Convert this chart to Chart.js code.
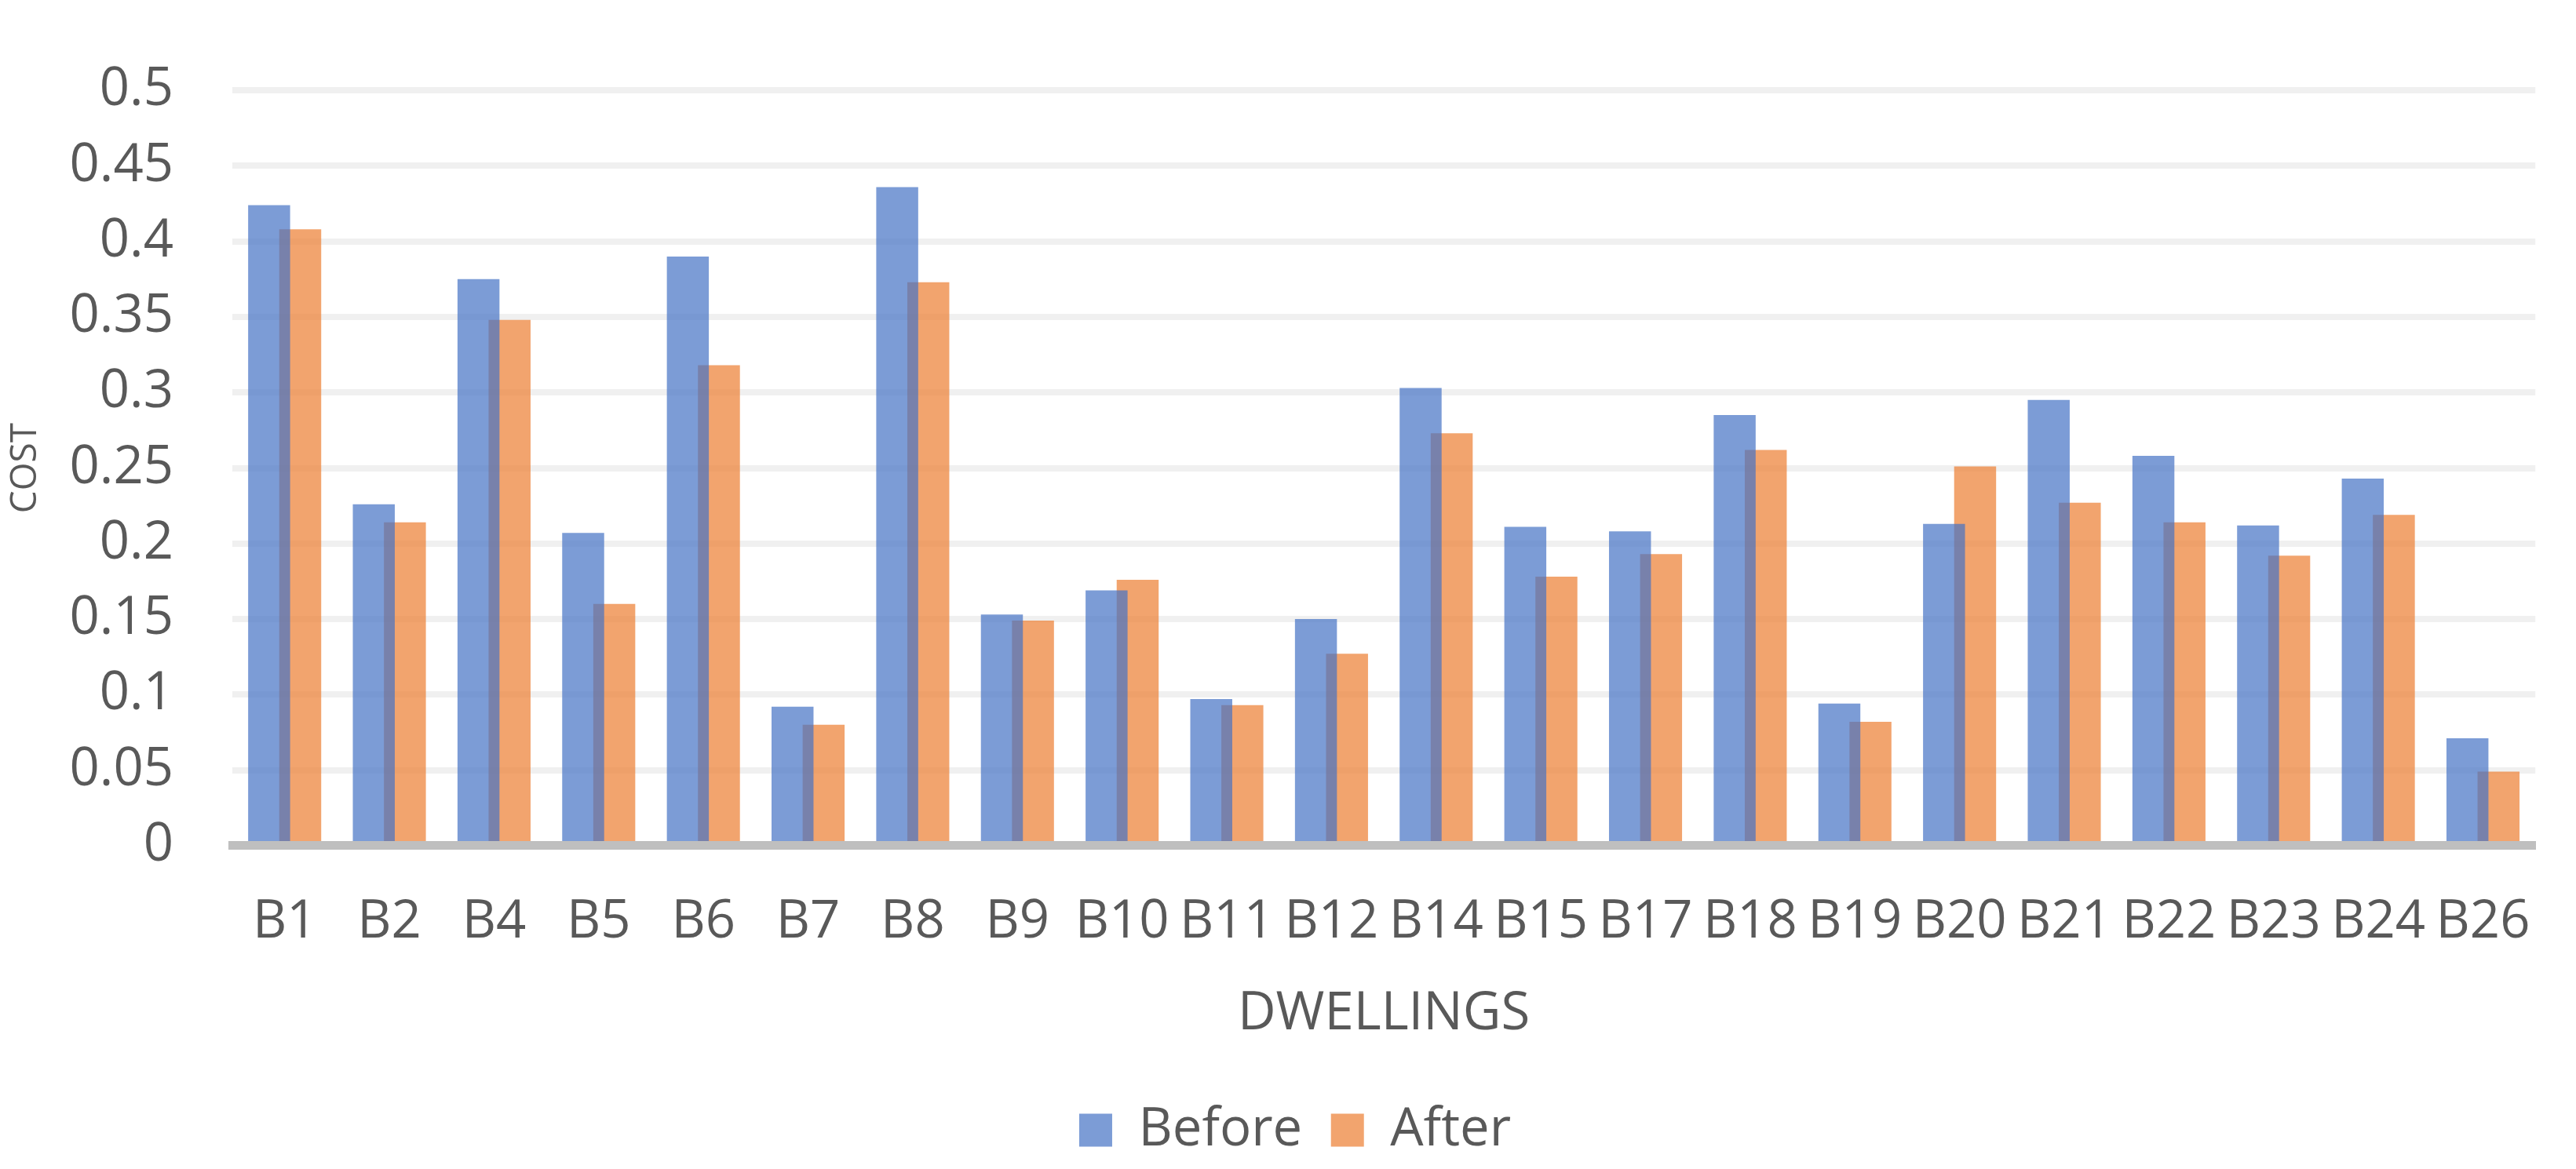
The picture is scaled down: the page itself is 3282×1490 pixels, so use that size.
<!DOCTYPE html>
<html>
<head>
<meta charset="utf-8">
<script src="https://cdn.jsdelivr.net/npm/chart.js@4"></script>
<style>
  html, body { margin: 0; padding: 0; background: #ffffff; }
  #wrap { width: 3282px; height: 1490px; }
</style>
</head>
<body>
<div id="wrap"><canvas id="c" width="3282" height="1490"></canvas></div>
<script>
const categories = ['B1','B2','B4','B5','B6','B7','B8','B9','B10','B11','B12','B14','B15','B17','B18','B19','B20','B21','B22','B23','B24','B26'];
const beforeValues = [0.424, 0.226, 0.375, 0.207, 0.390, 0.092, 0.436, 0.153, 0.169, 0.097, 0.150, 0.303, 0.211, 0.208, 0.285, 0.094, 0.213, 0.295, 0.258, 0.212, 0.243, 0.071];
const afterValues  = [0.408, 0.214, 0.348, 0.160, 0.318, 0.080, 0.373, 0.149, 0.176, 0.093, 0.127, 0.273, 0.178, 0.193, 0.262, 0.082, 0.251, 0.227, 0.214, 0.192, 0.219, 0.049];
const seriesNames = ['Before', 'After'];
const yTickLabels = ['0','0.05','0.1','0.15','0.2','0.25','0.3','0.35','0.4','0.45','0.5'];
const xTitle = 'DWELLINGS';
const yTitle = 'COST';

const FONT = "'Open Sans', 'Noto Sans', sans-serif";
const TEXT = '#595959';
const PAD_LEFT = 42;

Chart.defaults.font.family = FONT;
Chart.defaults.color = TEXT;

new Chart(document.getElementById('c'), {
  type: 'bar',
  data: {
    labels: categories,
    datasets: [
      { label: seriesNames[0], data: beforeValues, backgroundColor: 'rgba(68,114,196,0.7)', borderWidth: 0,
        categoryPercentage: 0.594, barPercentage: 1.35 },
      { label: seriesNames[1], data: afterValues, backgroundColor: 'rgba(237,125,49,0.7)', borderWidth: 0,
        categoryPercentage: 0.594, barPercentage: 1.35 }
    ]
  },
  options: {
    responsive: false,
    maintainAspectRatio: false,
    animation: false,
    devicePixelRatio: 1,
    layout: { padding: { left: PAD_LEFT, right: 24, top: 53.7, bottom: 6 } },
    plugins: {
      tooltip: { enabled: false },
      title: { display: false },
      legend: {
        display: true,
        position: 'bottom',
        align: 'center',
        labels: {
          boxWidth: 42, boxHeight: 42, padding: 36.5,
          color: TEXT,
          font: { family: FONT, size: 67 }
        }
      }
    },
    scales: {
      x: {
        grid: { display: false, drawTicks: false },
        border: { display: true, color: '#bfbfbf', width: 11, z: 1 },
        ticks: { color: TEXT, font: { family: FONT, size: 67 }, padding: 58, maxRotation: 0, minRotation: 0, autoSkip: false },
        title: { display: true, text: xTitle, color: TEXT, font: { family: FONT, size: 67 }, padding: { top: 0, bottom: 37 } },
        afterFit: (s) => { s.height = 292.7; }
      },
      y: {
        min: 0, max: 0.5,
        grid: { color: '#f0f0f0', lineWidth: 8, drawTicks: false },
        border: { display: false },
        ticks: {
          stepSize: 0.05, color: TEXT, font: { family: FONT, size: 67 }, padding: 75,
          callback: (v) => yTickLabels[Math.round(v / 0.05)]
        },
        title: { display: true, text: yTitle, color: TEXT, font: { family: FONT, size: 46 }, padding: { top: 33 - PAD_LEFT - 27.6, bottom: 0 } },
        afterFit: (s) => { s.width = 296 - PAD_LEFT; }
      }
    }
  }
});
</script>
</body>
</html>
